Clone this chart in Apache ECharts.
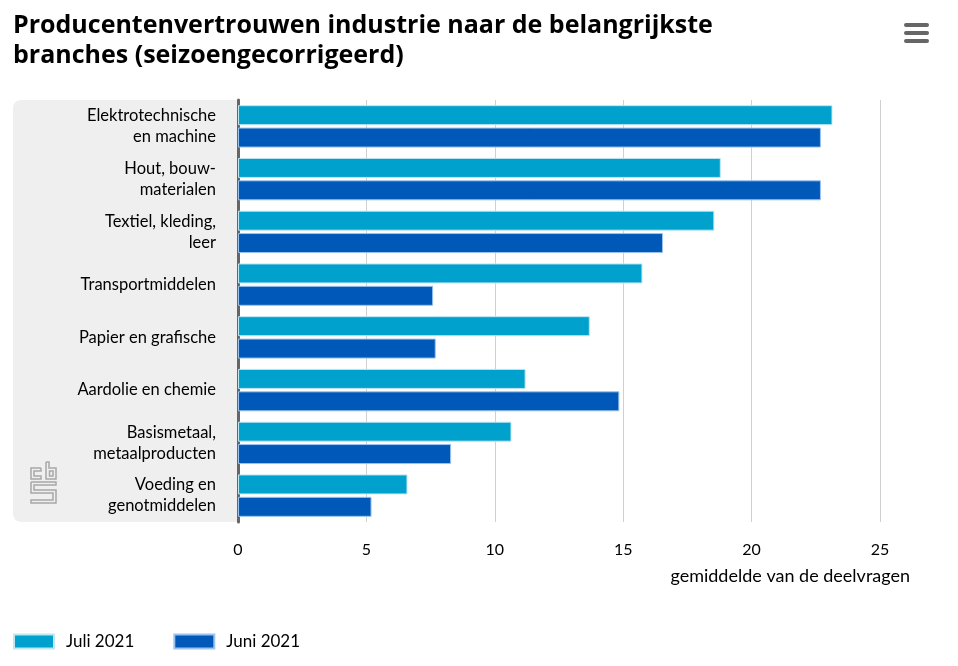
<!DOCTYPE html>
<html><head><meta charset="utf-8">
<script src="https://cdn.jsdelivr.net/npm/echarts@6/dist/echarts.min.js"></script>
<style>html,body{margin:0;padding:0;background:#fff}#c{width:958px;height:666px}</style>
</head><body><div id="c"></div>
<script>
const categories = ["Elektrotechnische\nen machine","Hout, bouw-\nmaterialen","Textiel, kleding,\nleer","Transportmiddelen","Papier en grafische","Aardolie en chemie","Basismetaal,\nmetaalproducten","Voeding en\ngenotmiddelen"];
const juli2021 = [23.15, 18.8, 18.55, 15.75, 13.7, 11.2, 10.65, 6.6];
const juni2021 = [22.7, 22.7, 16.55, 7.6, 7.7, 14.85, 8.3, 5.2];
const xTicks = [0, 5, 10, 15, 20, 25];
const seriesNames = ["Juli 2021", "Juni 2021"];

const FONT = 'Lato';
const G = '#a8a8a8';
const chart = echarts.init(document.getElementById('c'), null, {renderer:'canvas'});
function pl(points){return {type:'polyline',shape:{points:points},style:{stroke:G,lineWidth:1.5,fill:null},silent:true,z:-5};}
chart.setOption({
  animation:false,
  textStyle:{fontFamily:FONT},
  title:{text:"Producentenvertrouwen industrie naar de belangrijkste\nbranches (seizoengecorrigeerd)",left:13,top:11,padding:0,
    textStyle:{fontFamily:'Open Sans',fontSize:25,fontWeight:'bold',color:'#000',lineHeight:30}},
  grid:{left:238,right:78,top:100,bottom:144,containLabel:false},
  legend:{left:13,top:633,padding:0,itemWidth:40,itemHeight:14,itemGap:39,icon:'rect',
    textStyle:{fontFamily:FONT,fontSize:17,color:'#000',padding:[0,0,0,7]},data:seriesNames},
  xAxis:{type:'value',min:xTicks[0],max:xTicks[xTicks.length-1],interval:5,
    axisLine:{show:false},axisTick:{show:false},
    axisLabel:{fontFamily:FONT,fontSize:16,color:'#000',margin:20},
    splitLine:{lineStyle:{color:'#d0d0d0',width:1}},
    name:'gemiddelde van de deelvragen',nameLocation:'end',nameGap:30,
    nameTextStyle:{fontFamily:FONT,fontSize:18,color:'#000',align:'right',verticalAlign:'top',padding:[45,0,0,0]}},
  yAxis:{type:'category',data:categories,inverse:true,
    axisLine:{show:true,lineStyle:{color:'#666',width:3}},axisTick:{show:false},
    axisLabel:{fontFamily:FONT,fontSize:16.5,color:'#000',margin:22,lineHeight:21,align:'right'}},
  graphic:[
    {type:'rect',shape:{x:13,y:100,width:226,height:422,r:[8,0,0,8]},style:{fill:'#efefef'},z:-10,silent:true},
    pl([[41,468],[31,468],[31,479],[41,479],[41,476],[34,476],[34,471],[41,471],[41,468]]),
    pl([[46,462],[49,462],[49,468],[56,468],[56,479],[46,479],[46,462]]),
    {type:'rect',shape:{x:49.5,y:471,width:3.5,height:5},style:{stroke:G,lineWidth:1.5,fill:null},silent:true,z:-5},
    pl([[31,482],[56,482],[56,485],[34,485],[34,490],[56,490],[56,503],[31,503],[31,500],[53,500],[53,493],[31,493],[31,482]])
  ].concat([23,31,39].map(y=>({type:'rect',shape:{x:904,y:y,width:25,height:4,r:2},style:{fill:'#666'}}))),
  series:[
    {name:seriesNames[0],type:'bar',data:juli2021,barWidth:20,barGap:'12%',
      itemStyle:{color:'#00a1cd',borderColor:'#bfe6f3',borderWidth:1}},
    {name:seriesNames[1],type:'bar',data:juni2021,barWidth:20,
      itemStyle:{color:'#0058b8',borderColor:'#9cc3ee',borderWidth:1}}
  ]
});
</script></body></html>
